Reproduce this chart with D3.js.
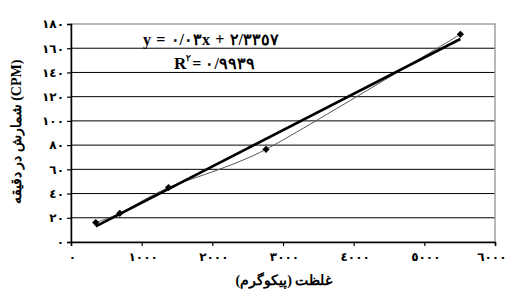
<!DOCTYPE html>
<html>
<head>
<meta charset="utf-8">
<script src="https://cdn.jsdelivr.net/npm/d3@7"></script>
<style>
  html, body { margin: 0; padding: 0; background: #fff; }
  svg { display: block; }
  text { font-family: "Liberation Serif", "DejaVu Serif", serif; font-weight: bold; fill: #000; }
</style>
</head>
<body>
<svg></svg>
<script>
// values
var concentration = [350, 690, 1380, 2760, 5510];   // picogram
var counts = [16, 23.7, 45, 76.5, 171.5];           // CPM
var xTicks = [0, 1000, 2000, 3000, 4000, 5000, 6000];
var yTicks = [0, 20, 40, 60, 80, 100, 120, 140, 160, 180];
var slope = 0.03, intercept = 2.3357;
var equationText = 'y = ٠/٠٣x + ٢/٣٣٥٧';
var r2Text = '= ٠/٩٩٣٩';
var xTitle = 'غلظت (پیکوگرم)';
var yTitle = 'شمارش در دقیقه (CPM)';

function arabicDigits(n) {
  return String(n).replace(/[0-9]/g, function (c) { return '٠١٢٣٤٥٦٧٨٩'[+c]; });
}

var width = 507, height = 293;
var svg = d3.select('svg').attr('width', width).attr('height', height);
var mLeft = 71, mRight = 495, mTop = 24, mBottom = 242;

var x = d3.scaleLinear().domain([0, 6000]).range([mLeft, mRight]);
var y = d3.scaleLinear().domain([0, 180]).range([mBottom, mTop]);

// gridlines
svg.selectAll('line.grid').data(yTicks.filter(function (d) { return d > 0 && d < 180; }))
  .enter().append('line').attr('class', 'grid')
  .attr('x1', mLeft).attr('x2', mRight)
  .attr('y1', function (d) { return y(d); }).attr('y2', function (d) { return y(d); })
  .attr('stroke', '#000').attr('stroke-width', 1);

// plot border
svg.append('rect').attr('x', mLeft).attr('y', mTop)
  .attr('width', mRight - mLeft).attr('height', mBottom - mTop)
  .attr('fill', 'none').attr('stroke', '#a0a0a0').attr('stroke-width', 1.5);

// axes
var xAxis = d3.axisBottom(x).tickValues(xTicks).tickSize(4).tickPadding(6)
  .tickFormat(arabicDigits);
var yAxis = d3.axisLeft(y).tickValues(yTicks).tickSize(4).tickPadding(5)
  .tickFormat(arabicDigits);

var gx = svg.append('g').attr('transform', 'translate(0,' + mBottom + ')').call(xAxis);
var gy = svg.append('g').attr('transform', 'translate(' + mLeft + ',0)').call(yAxis);
[gx, gy].forEach(function (g) {
  g.select('.domain').attr('stroke', '#000').attr('stroke-width', 1.5);
  g.selectAll('.tick line').attr('stroke', '#000').attr('stroke-width', 1.2);
  g.selectAll('.tick text').style('font-family', '"DejaVu Sans", sans-serif')
    .style('font-weight', 'bold').style('font-size', '12px')
    .style('letter-spacing', '2px').attr('fill', '#000');
});
gx.selectAll('.tick text').style('letter-spacing', '1.5px').attr('dx', 1);
// keep the last label inside the window
gx.selectAll('.tick text').filter(function (d) { return d === d3.max(xTicks); })
  .attr('text-anchor', 'end').attr('dx', 11);
gy.selectAll('.tick text').attr('dx', 2);

// smoothed line through points
var pts = concentration.map(function (c, i) { return [c, counts[i]]; });
svg.append('path').datum(pts)
  .attr('d', d3.line().x(function (d) { return x(d[0]); }).y(function (d) { return y(d[1]); })
    .curve(d3.curveCardinal.tension(0.3)))
  .attr('fill', 'none').attr('stroke', '#555').attr('stroke-width', 1);

// linear trend line
var x0 = d3.min(concentration), x1 = d3.max(concentration);
svg.append('line')
  .attr('x1', x(x0)).attr('y1', y(slope * x0 + intercept))
  .attr('x2', x(x1)).attr('y2', y(slope * x1 + intercept))
  .attr('stroke', '#000').attr('stroke-width', 2.6);

// diamond markers
svg.selectAll('path.mark').data(pts).enter().append('path').attr('class', 'mark')
  .attr('transform', function (d) { return 'translate(' + x(d[0]) + ',' + y(d[1]) + ') rotate(45)'; })
  .attr('d', d3.symbol().type(d3.symbolSquare).size(26))
  .attr('fill', '#000');

// equation
svg.append('text').attr('x', 143).attr('y', 45)
  .style('font-size', '16px').style('letter-spacing', '0.6px').attr('direction', 'ltr')
  .text(equationText);
var rT = svg.append('text').attr('x', 174).attr('y', 69).style('font-size', '17px').text('R');
var rx = 174 + rT.node().getComputedTextLength();
svg.append('text').attr('x', rx).attr('y', 61).style('font-size', '9px').text('٢');
svg.append('text').attr('x', rx + 6).attr('y', 69).style('font-size', '16px')
  .style('letter-spacing', '1.5px').attr('direction', 'ltr').text(r2Text);

// axis titles
svg.append('text').attr('x', 284).attr('y', 285)
  .attr('text-anchor', 'middle').style('font-size', '14px')
  .text(xTitle);
svg.append('text').attr('transform', 'translate(21,132) rotate(-90)')
  .attr('text-anchor', 'middle').style('font-size', '14px')
  .text(yTitle);
</script>
</body>
</html>
